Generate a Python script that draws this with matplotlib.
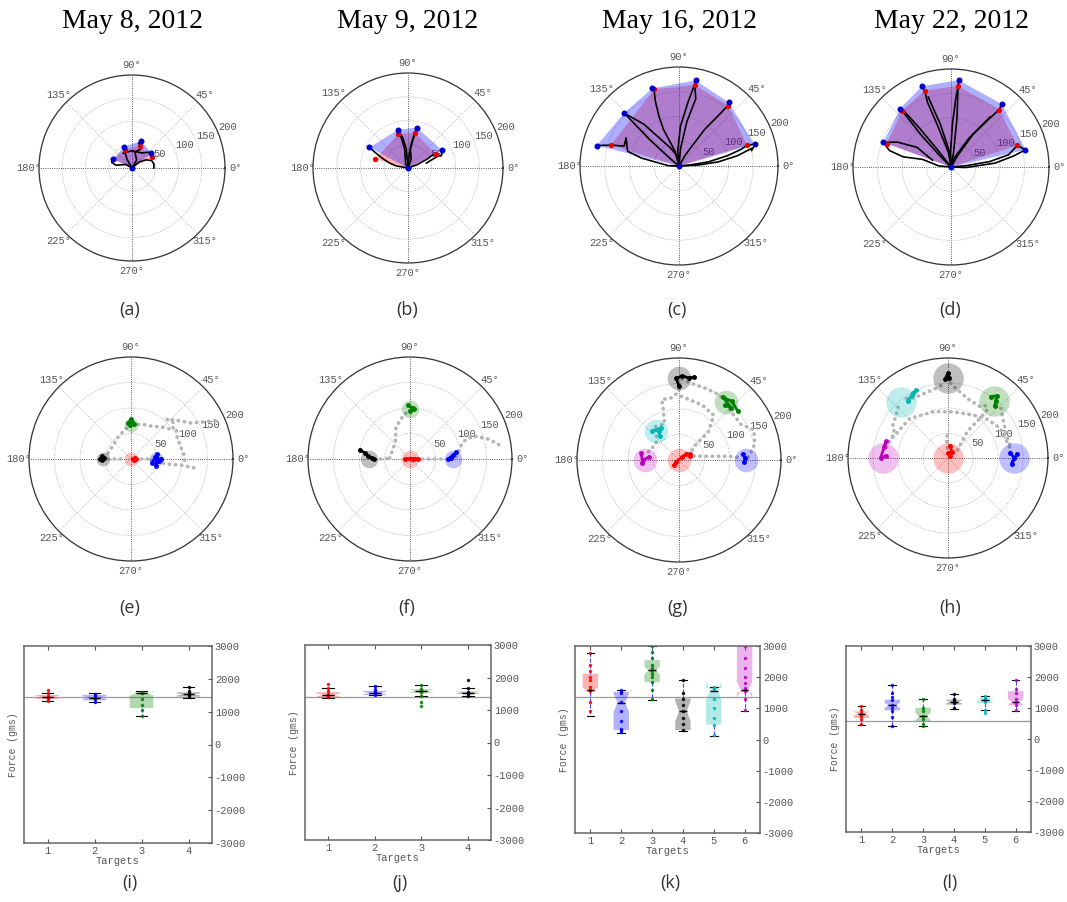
import numpy as np
import matplotlib
import matplotlib.pyplot as plt

matplotlib.use("Agg")

# ---------------- data ----------------
dates = ["May 8, 2012", "May 9, 2012", "May 16, 2012", "May 22, 2012"]
tags = ["(a)", "(b)", "(c)", "(d)", "(e)", "(f)", "(g)", "(h)", "(i)", "(j)", "(k)", "(l)"]
target_colors = ["#ff0000", "#0000ff", "#008000", "#000000", "#00b5b5", "#c000c0"]

# row 1: (angle deg, radius) of the furthest reach per direction
blue_a = [(155, 46), (110, 48), (71, 62), (37, 52), (0, 0)]
red_a = [(155, 44), (112, 42), (71, 51), (29, 48)]
blue_b = [(152, 92), (105, 83), (78, 87), (28, 81), (0, 0)]
red_b = [(165, 72), (106, 74), (79, 76), (26, 66)]
blue_c = [(166, 171), (136, 154), (109, 166), (79, 176), (52, 163), (16, 159), (0, 0)]
red_c = [(163, 144), (108, 163), (79, 167), (51, 157), (17, 144)]
blue_d = [(160, 147), (131, 158), (110, 175), (85, 178), (51, 165), (13, 156), (0, 0)]
red_d = [(160, 140), (131, 152), (109, 165), (85, 166), (50, 153), (18, 142)]

# row 1: cursor paths (angle deg, radius)
paths_a = [
    [(0, 0), (150, 15), (170, 35), (165, 45), (155, 46)],
    [(0, 0), (120, 20), (115, 35), (112, 42), (110, 48)],
    [(120, 37), (90, 37), (56, 39), (45, 48), (37, 52)],
    [(0, 0), (60, 20), (80, 35), (65, 45), (75, 55), (71, 62)],
    [(0, 0), (40, 20), (30, 35), (21, 45), (10, 48), (0, 47)],
]
paths_b = [
    [(0, 0), (170, 25), (165, 40), (160, 55), (155, 75), (152, 92)],
    [(0, 0), (120, 10), (100, 40), (102, 60), (105, 83)],
    [(0, 0), (95, 40), (100, 65), (104, 80)],
    [(0, 0), (70, 20), (83, 40), (80, 60), (78, 87)],
    [(0, 0), (85, 30), (82, 55), (79, 76)],
    [(0, 0), (20, 20), (25, 45), (28, 60), (20, 75), (28, 81)],
    [(15, 40), (22, 70), (26, 66)],
]
paths_c = [
    [(0, 0), (178, 22), (168, 78), (164, 108), (152, 121), (160, 118), (163, 144), (166, 171)],
    [(0, 0), (140, 25), (138, 80), (136, 154)],
    [(136, 154), (130, 110), (115, 40), (100, 20)],
    [(0, 0), (105, 31), (113, 80), (112, 107), (110, 140), (108, 163), (109, 166)],
    [(0, 0), (85, 35), (80, 90), (76, 140), (79, 167), (79, 176)],
    [(0, 0), (95, 30), (88, 80), (82, 130), (79, 170)],
    [(0, 0), (60, 26), (55, 90), (52, 130), (51, 157), (52, 163)],
    [(0, 0), (5, 20), (8, 60), (12, 100), (15, 130), (17, 144), (16, 159)],
    [(0, 0), (3, 40), (6, 80), (10, 120), (14, 155), (12, 150)],
    [(0, 0), (178, 15)],
]
paths_d = [
    [(0, 0), (175, 25), (165, 60), (168, 100), (165, 130), (160, 147)],
    [(160, 147), (155, 120), (150, 80), (160, 40)],
    [(0, 0), (135, 30), (133, 90), (131, 152), (131, 158)],
    [(0, 0), (128, 40), (129, 100), (130, 150)],
    [(0, 0), (100, 30), (108, 90), (110, 140), (109, 165), (110, 175)],
    [(0, 0), (95, 30), (104, 90), (108, 150)],
    [(0, 0), (92, 30), (88, 90), (86, 140), (85, 166), (85, 178)],
    [(0, 0), (80, 30), (83, 100), (85, 165)],
    [(0, 0), (60, 25), (56, 80), (52, 120), (50, 153), (51, 165)],
    [(0, 0), (70, 20), (58, 70), (52, 130)],
    [(0, 0), (5, 30), (8, 80), (12, 120), (18, 142), (13, 156)],
    [(0, 0), (-2, 30), (5, 90), (10, 130), (13, 156)],
]

# row 2: target centres (angle deg, radius), in target order
targets_e = [(0, 0), (0, 49), (90, 67), (180, 54)]
targets_f = [(0, 0), (0, 84), (90, 99), (180, 81)]
targets_g = [(0, 0), (0, 131), (51, 147), (90, 160), (129, 72), (180, 67)]
targets_h = [(0, 0), (0, 131), (51, 146), (90, 160), (130, 147), (180, 131)]
target_size = [100, 160, 290, 480]

# row 2: samples while holding at each target
hold_e = [
    [(0, 3), (20, 8), (340, 6), (0, 10)],
    [(350, 42), (5, 48), (355, 55), (10, 52), (345, 50), (0, 58)],
    [(92, 66), (88, 72), (90, 78), (95, 70), (85, 68)],
    [(178, 52), (182, 56), (175, 58), (180, 60)],
]
hold_f = [
    [(0, 8), (180, 10), (0, 15), (5, 3)],
    [(0, 75), (5, 85), (8, 92), (2, 80)],
    [(90, 95), (87, 100), (92, 105), (85, 98)],
    [(170, 100), (172, 90), (176, 82), (179, 75), (180, 70)],
]
hold_g = [
    [(225, 14), (210, 6), (45, 8), (40, 18), (30, 24), (20, 22)],
    [(5, 125), (2, 130), (358, 128)],
    [(50, 140), (45, 145), (55, 150), (48, 155), (40, 150)],
    [(90, 145), (92, 160), (88, 165), (83, 162), (80, 165)],
    [(128, 60), (125, 70), (133, 78), (120, 72)],
    [(175, 60), (180, 70), (185, 72), (170, 75)],
]
hold_h = [
    [(80, 25), (60, 15), (90, 10), (45, 5)],
    [(5, 125), (0, 132), (355, 128), (3, 138)],
    [(55, 150), (52, 158), (50, 148), (48, 140)],
    [(92, 158), (90, 170), (89, 160)],
    [(125, 140), (120, 145), (115, 150), (118, 148)],
    [(170, 130), (165, 128), (180, 135), (178, 125)],
]

# row 2: cursor travel between targets
travel_e = [
    [(178, 52), (160, 45), (148, 44), (120, 50), (100, 60), (92, 66)],
    [(88, 68), (70, 72), (58, 76), (45, 88), (35, 100), (40, 110), (48, 105), (40, 118), (31, 137), (27, 160), (24, 188)],
    [(32, 105), (25, 100), (15, 100), (5, 104), (-2, 105)],
    [(-3, 40), (-8, 70), (-7, 100), (-8, 126)],
    [(0, 8), (0, 20), (0, 32), (0, 42)],
    [(180, 45), (180, 30), (180, 15)],
]
travel_f = [
    [(0, 12), (0, 40), (0, 70)],
    [(3, 90), (12, 100), (18, 109), (20, 132), (14, 160), (8, 181)],
    [(180, 70), (180, 55), (178, 42)],
    [(178, 40), (130, 44), (114, 68), (100, 84), (92, 95)],
]
travel_g = [
    [(165, 62), (145, 55), (135, 62), (130, 68)],
    [(125, 80), (112, 76), (107, 106), (106, 123), (97, 123), (90, 134), (90, 150)],
    [(88, 158), (80, 152), (70, 150), (60, 150), (52, 148)],
    [(88, 125), (67, 117), (52, 111), (44, 80), (42, 43), (30, 25)],
    [(45, 140), (30, 140), (22, 158), (12, 152), (5, 140), (2, 135)],
    [(15, 30), (7, 60), (4, 100), (2, 122)],
]
travel_h = [
    [(170, 125), (155, 118), (150, 128), (140, 135), (133, 145)],
    [(165, 123), (150, 112), (134, 110), (107, 97), (83, 93), (59, 100), (45, 110), (30, 120), (10, 125)],
    [(125, 145), (120, 138), (102, 140), (92, 150)],
    [(88, 150), (85, 143), (72, 125), (58, 121), (52, 135)],
    [(48, 145), (43, 145), (30, 130), (18, 125), (8, 128)],
    [(40, 25), (54, 65), (51, 103), (51, 130)],
    [(95, 20), (95, 35), (92, 45)],
]

# row 3: force box stats per target (gms)
med_i = [1450, 1430, 1560, 1525]
q1_i = [1390, 1345, 1110, 1460]
q3_i = [1510, 1515, 1590, 1590]
lo_i = [1325, 1290, 870, 1430]
hi_i = [1560, 1555, 1620, 1750]
notch_i = [40, 40, 60, 30]

med_j = [1460, 1520, 1590, 1530]
q1_j = [1390, 1460, 1530, 1490]
q3_j = [1550, 1590, 1640, 1565]
lo_j = [1380, 1455, 1425, 1425]
hi_j = [1680, 1750, 1760, 1670]
notch_j = [50, 40, 40, 25]

med_k = [1590, 1185, 2215, 910, 1560, 1590]
q1_k = [1530, 300, 1840, 300, 480, 1510]
q3_k = [2110, 1530, 2545, 1315, 1650, 3300]
lo_k = [770, 210, 1260, 280, 120, 910]
hi_k = [2780, 1590, 3000, 1910, 1700, 3300]
notch_k = [80, 300, 130, 330, 300, 250]

med_l = [820, 1085, 730, 1195, 1270, 1195]
q1_l = [680, 925, 580, 1110, 1160, 1085]
q3_l = [890, 1270, 1010, 1270, 1325, 1540]
lo_l = [460, 420, 420, 955, 945, 905]
hi_l = [1065, 1730, 1280, 1460, 1385, 1915]
notch_l = [60, 80, 120, 40, 50, 100]

samples_i = [[1670, 1560, 1480, 1450, 1420, 1390, 1330], [1550, 1500, 1460, 1430, 1380, 1300],
             [1610, 1580, 1560, 1400, 1200, 1050, 880], [1750, 1620, 1560, 1530, 1500, 1440]]
samples_j = [[1790, 1680, 1600, 1500, 1460, 1420, 1390], [1750, 1650, 1580, 1540, 1500, 1460],
             [1760, 1640, 1600, 1580, 1540, 1420, 1250, 1130], [1910, 1670, 1560, 1530, 1500, 1430]]
samples_k = [[2780, 2400, 2200, 2000, 1900, 1700, 1600, 1550, 1200, 900],
             [1590, 1550, 1500, 1200, 900, 600, 350, 300, 250],
             [3000, 2800, 2600, 2400, 2300, 2200, 2100, 2000, 1850, 1600, 1300],
             [1910, 1500, 1300, 1100, 900, 700, 500, 300],
             [1700, 1650, 1600, 1300, 1000, 700, 450, 150],
             [3000, 2600, 2300, 2000, 1800, 1650, 1600, 1550, 1300, 950]]
samples_l = [[1060, 950, 850, 820, 750, 650, 470], [1730, 1500, 1350, 1250, 1100, 1000, 900, 700, 430],
             [1280, 1000, 900, 750, 650, 500, 430], [1460, 1300, 1250, 1200, 1150, 1000],
             [1390, 1320, 1280, 1250, 1200, 950, 850], [1910, 1600, 1500, 1300, 1200, 1100, 920]]

baseline = [1450, 1390, 1370, 590]

# ---------------- plotting ----------------
W, H = 1067, 902
plt.rcParams["font.family"] = "Liberation Mono"
plt.rcParams["axes.unicode_minus"] = False
grey_txt = "#555555"

fig = plt.figure(figsize=(W / 100, H / 100), dpi=100)


def polar_box(cx, cy, r):
    return [(cx - r) / W, 1 - (cy + r) / H, 2 * r / W, 2 * r / H]


def style_polar(ax):
    ax.set_ylim(0, 200)
    ax.set_yticks([50, 100, 150, 200])
    ax.set_yticklabels(["50", "100", "150", "200"], fontsize=7.5, color=grey_txt)
    ax.set_rlabel_position(22.5)
    ax.set_thetagrids(range(0, 360, 45), [f"{a}°" for a in range(0, 360, 45)],
                      fontsize=7.5, color=grey_txt)
    ax.tick_params(axis="x", pad=-3)
    ax.grid(True, color="#aaaaaa", ls=":", lw=0.6)
    for i, gl in enumerate(ax.xaxis.get_gridlines()):
        if i % 2 == 0:
            gl.set_color("#222222")
    ax.spines["polar"].set_color("#333333")
    ax.spines["polar"].set_linewidth(0.9)


def pts(lst):
    a = np.array(lst, dtype=float)
    return np.deg2rad(a[:, 0]), a[:, 1]


row1_pos = [(132, 168, 93), (408, 168, 95), (679, 166, 99), (951, 167, 98)]
blues = [blue_a, blue_b, blue_c, blue_d]
reds = [red_a, red_b, red_c, red_d]
paths = [paths_a, paths_b, paths_c, paths_d]

for k in range(4):
    ax = fig.add_axes(polar_box(*row1_pos[k]), projection="polar")
    style_polar(ax)
    bt, br = pts(blues[k])
    rt, rr = pts(reds[k] + [(0, 0)])
    ax.fill(rt, rr, color=(1.0, 0.0, 0.0), alpha=0.3, lw=0, zorder=2)
    ax.fill(bt, br, color=(0.1, 0.1, 1.0), alpha=0.35, lw=0, zorder=2)
    for p in paths[k]:
        t, r = pts(p)
        ax.plot(t, r, color="black", lw=1.2, zorder=3)
    ax.plot(rt[:-1], rr[:-1], "o", color="#ee0000", ms=2.8, zorder=4)
    ax.plot(bt, br, "o", color="#0000cc", ms=3.3, zorder=5)
    fig.text(row1_pos[k][0] / W, 1 - 22 / H, dates[k], ha="center", va="center",
             fontsize=20, family="Liberation Serif")

row2_pos = [(131, 459, 102), (410, 459, 102), (679, 460, 102), (948, 458, 100)]
targets = [targets_e, targets_f, targets_g, targets_h]
holds = [hold_e, hold_f, hold_g, hold_h]
travels = [travel_e, travel_f, travel_g, travel_h]

for k in range(4):
    ax = fig.add_axes(polar_box(*row2_pos[k]), projection="polar")
    style_polar(ax)
    for p in travels[k]:
        t, r = pts(p)
        ax.plot(t, r, color="#b5b5b5", lw=2.6, ls=(0, (0.1, 1.6)),
                dash_capstyle="round", zorder=2)
    for j, tg in enumerate(targets[k]):
        t, r = pts([tg])
        ax.scatter(t, r, s=target_size[k], color=target_colors[j], alpha=0.25, lw=0, zorder=3)
    for j, h in enumerate(holds[k]):
        t, r = pts(h)
        ax.plot(t, r, "o-", color=target_colors[j], lw=2, ms=2.5, zorder=4)

box_pos = [(24, 212, 646, 843), (305, 491, 645, 840), (575, 760, 646, 833), (846, 1031, 646, 832)]
meds = [med_i, med_j, med_k, med_l]
q1s = [q1_i, q1_j, q1_k, q1_l]
q3s = [q3_i, q3_j, q3_k, q3_l]
los = [lo_i, lo_j, lo_k, lo_l]
his = [hi_i, hi_j, hi_k, hi_l]
notches = [notch_i, notch_j, notch_k, notch_l]
samples = [samples_i, samples_j, samples_k, samples_l]

for k in range(4):
    x0, x1, y0, y1 = box_pos[k]
    ax = fig.add_axes([x0 / W, 1 - y1 / H, (x1 - x0) / W, (y1 - y0) / H])
    n = len(meds[k])
    stats = []
    for j in range(n):
        stats.append(dict(med=meds[k][j], q1=q1s[k][j], q3=q3s[k][j],
                          whislo=los[k][j], whishi=his[k][j],
                          cilo=meds[k][j] - notches[k][j], cihi=meds[k][j] + notches[k][j]))
    art = ax.bxp(stats, positions=range(1, n + 1), widths=0.5, capwidths=0.25,
                 patch_artist=True, shownotches=True, showfliers=False,
                 boxprops=dict(lw=0),
                 whiskerprops=dict(color="#4a4aff", ls="--", lw=0.8),
                 capprops=dict(color="black", lw=0.8),
                 medianprops=dict(color="black", lw=1))
    for j, b in enumerate(art["boxes"]):
        b.set_facecolor(target_colors[j])
        b.set_alpha(0.3)
    for j, s in enumerate(samples[k]):
        ax.plot([j + 1] * len(s), s, ".", color=target_colors[j], ms=3, alpha=0.8)
    ax.axhline(baseline[k], color="#999999", lw=0.9, zorder=0)
    ax.set_xlim(0.5, n + 0.5)
    ax.set_ylim(-3000, 3000)
    ax.set_xticks(range(1, n + 1))
    ax.set_xticklabels([str(j) for j in range(1, n + 1)])
    ax.set_yticks(range(-3000, 3001, 1000))
    ax.yaxis.tick_right()
    ax.tick_params(direction="in", labelsize=7.5, colors=grey_txt, top=True, right=True,
                   length=3, pad=2)
    ax.set_ylabel("Force (gms)", fontsize=7, color=grey_txt, labelpad=4)
    ax.yaxis.set_label_position("left")
    ax.set_xlabel("Targets", fontsize=7.5, color=grey_txt, labelpad=0)
    for sp in ax.spines.values():
        sp.set_color("#666666")
        sp.set_linewidth(1.1)

tag_x = [130, 407, 677, 950, 130, 407, 677, 950, 130, 400, 670, 950]
tag_y = [310] * 4 + [608] * 4 + [883] * 4
for t, x, y in zip(tags, tag_x, tag_y):
    fig.text(x / W, 1 - y / H, t, ha="center", va="center", fontsize=13,
             family="Open Sans", color="#333333")

fig.savefig("out.png", dpi=100)
